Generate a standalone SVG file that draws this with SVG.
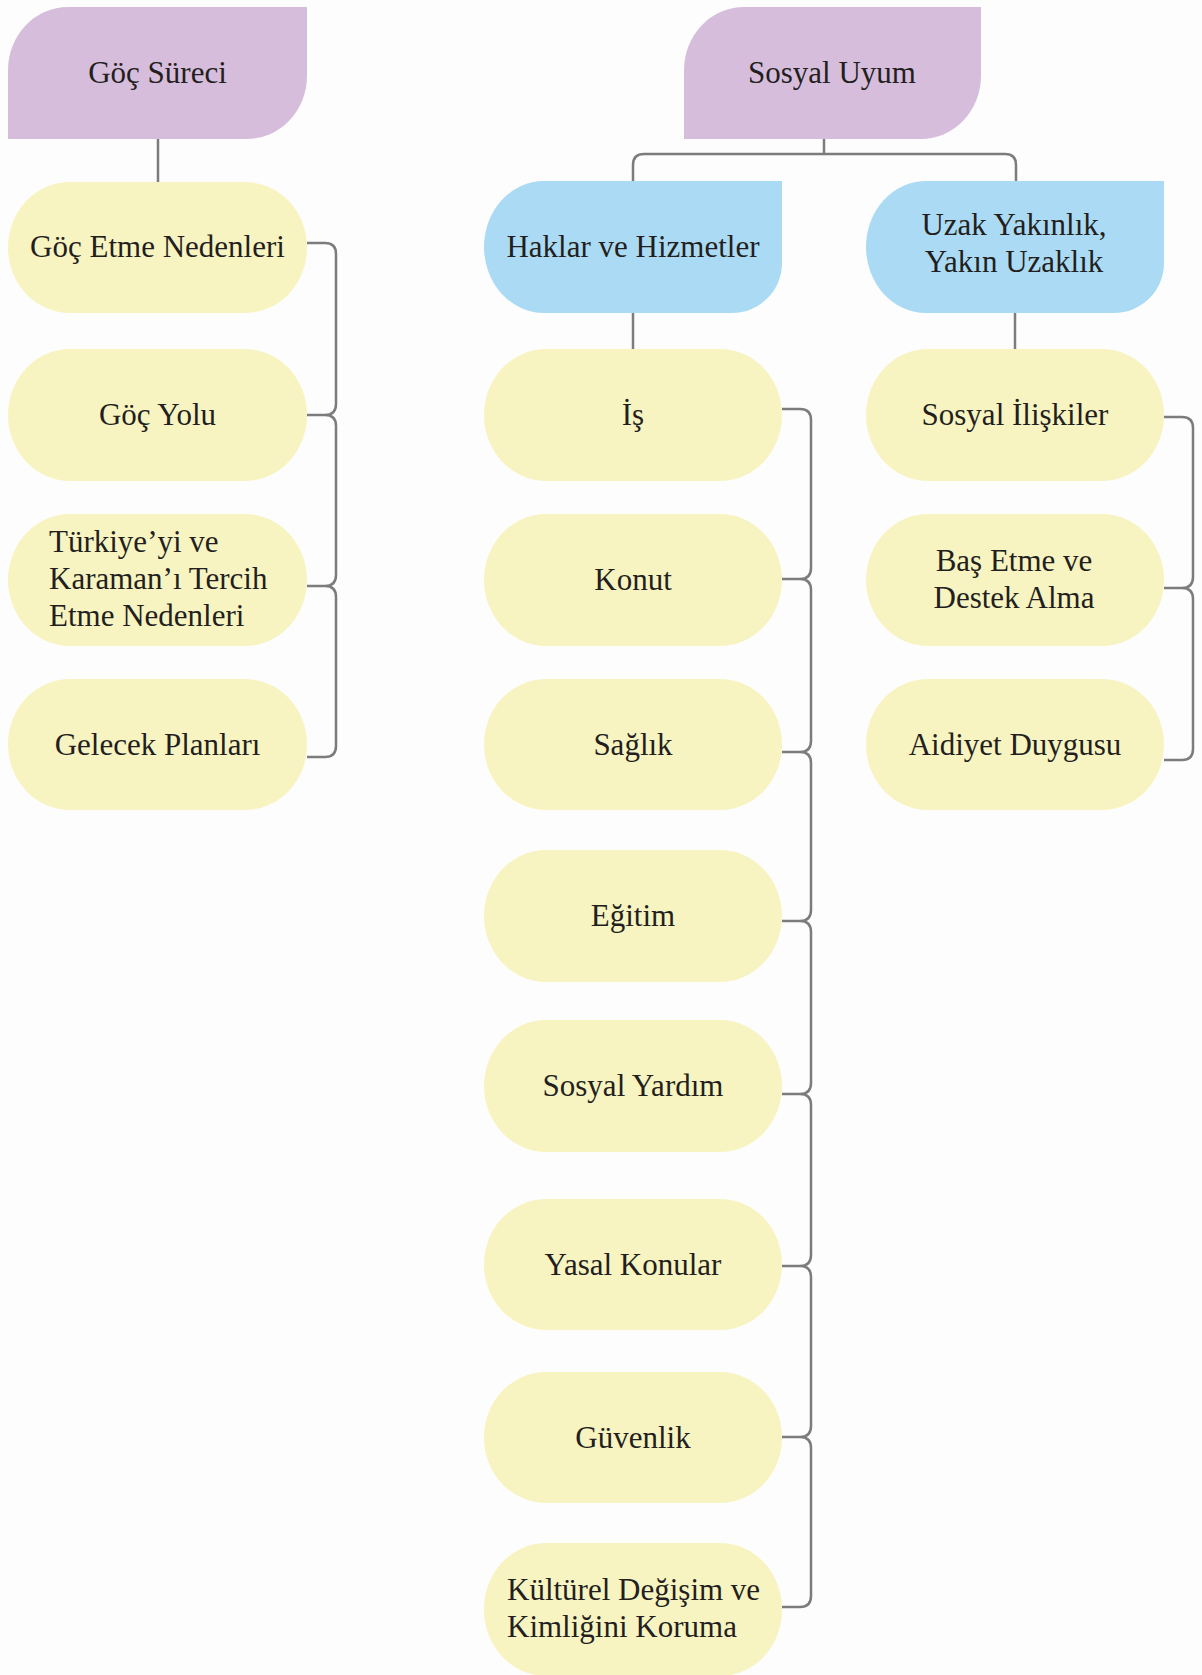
<svg xmlns="http://www.w3.org/2000/svg" width="1202" height="1675" viewBox="0 0 1202 1675">
<style>
.bg{fill:#FDFDFD}
.purple{fill:#D7BDDC}
.blue{fill:#ABDBF4}
.pill{fill:#F8F4C1}
.t{font-family:"Liberation Serif","Times New Roman",serif;font-size:31px;fill:#231F20}
.c{text-anchor:middle}
.ln{fill:none;stroke:#7C7C7C;stroke-width:2.5}
</style>
<rect class="bg" x="0" y="0" width="1202" height="1675"/>
<g id="connectors">
<path class="ln" d="M158,139 V182"/>
<path class="ln" d="M824,139 V154"/>
<path class="ln" d="M633,181 V165 Q633,154 644,154 H1005 Q1016,154 1016,165 V181"/>
<path class="ln" d="M633,313 V349"/>
<path class="ln" d="M1015,313 V349"/>
<path class="ln" d="M307,243 H325 Q336,243 336,254 V404 Q336,415 325,415 H307 M307,415 H325 Q336,415 336,426 V575 Q336,586 325,586 H307 M307,586 H325 Q336,586 336,597 V746 Q336,757 325,757 H307"/>
<path class="ln" d="M782,409 H800 Q811,409 811,420 V568 Q811,579 800,579 H782 M782,579 H800 Q811,579 811,590 V741 Q811,752 800,752 H782 M782,752 H800 Q811,752 811,763 V910 Q811,921 800,921 H782 M782,921 H800 Q811,921 811,932 V1083 Q811,1094 800,1094 H782 M782,1094 H800 Q811,1094 811,1105 V1255 Q811,1266 800,1266 H782 M782,1266 H800 Q811,1266 811,1277 V1426 Q811,1437 800,1437 H782 M782,1437 H800 Q811,1437 811,1448 V1596 Q811,1607 800,1607 H782"/>
<path class="ln" d="M1164,417 H1182 Q1193,417 1193,428 V577 Q1193,588 1182,588 H1164 M1164,588 H1182 Q1193,588 1193,599 V749 Q1193,760 1182,760 H1164"/>
</g>
<g id="goc-sureci">
<path class="purple" d="M8,139 V70 A60 63 0 0 1 68,7 H307 V76 A60 63 0 0 1 247,139 Z"/>
<text class="t c" x="157.5" y="83">Göç Süreci</text>
</g>
<g id="sosyal-uyum">
<path class="purple" d="M684,139 V70 A60 63 0 0 1 744,7 H981 V76 A60 63 0 0 1 921,139 Z"/>
<text class="t c" x="832" y="83">Sosyal Uyum</text>
</g>
<g id="haklar-ve-hizmetler">
<path class="blue" d="M782,181 V263 A50 50 0 0 1 732,313 H544 A60 66 0 0 1 484,247 A60 66 0 0 1 544,181 Z"/>
<text class="t c" x="633" y="257">Haklar ve Hizmetler</text>
</g>
<g id="uzak-yakinlik">
<path class="blue" d="M1164,181 V263 A50 50 0 0 1 1114,313 H926 A60 66 0 0 1 866,247 A60 66 0 0 1 926,181 Z"/>
<text class="t c" x="1014" y="235">Uzak Yakınlık,</text>
<text class="t c" x="1014" y="272">Yakın Uzaklık</text>
</g>
<g id="goc-etme-nedenleri">
<rect class="pill" x="8" y="182" width="299" height="131" rx="62" ry="65"/>
<text class="t c" x="157.5" y="257">Göç Etme Nedenleri</text>
</g>
<g id="goc-yolu">
<rect class="pill" x="8" y="349" width="299" height="132" rx="62" ry="66"/>
<text class="t c" x="157.5" y="425">Göç Yolu</text>
</g>
<g id="turkiye-karaman">
<rect class="pill" x="8" y="514" width="299" height="132" rx="62" ry="66"/>
<text class="t" x="49" y="552">Türkiye’yi ve</text>
<text class="t" x="49" y="589">Karaman’ı Tercih</text>
<text class="t" x="49" y="626">Etme Nedenleri</text>
</g>
<g id="gelecek-planlari">
<rect class="pill" x="8" y="679" width="299" height="131" rx="62" ry="65"/>
<text class="t c" x="157.5" y="755">Gelecek Planları</text>
</g>
<g id="is">
<rect class="pill" x="484" y="349" width="298" height="132" rx="62" ry="66"/>
<text class="t c" x="633" y="425">İş</text>
</g>
<g id="konut">
<rect class="pill" x="484" y="514" width="298" height="132" rx="62" ry="66"/>
<text class="t c" x="633" y="590">Konut</text>
</g>
<g id="saglik">
<rect class="pill" x="484" y="679" width="298" height="131" rx="62" ry="65"/>
<text class="t c" x="633" y="755">Sağlık</text>
</g>
<g id="egitim">
<rect class="pill" x="484" y="850" width="298" height="132" rx="62" ry="66"/>
<text class="t c" x="633" y="926">Eğitim</text>
</g>
<g id="sosyal-yardim">
<rect class="pill" x="484" y="1020" width="298" height="132" rx="62" ry="66"/>
<text class="t c" x="633" y="1096">Sosyal Yardım</text>
</g>
<g id="yasal-konular">
<rect class="pill" x="484" y="1199" width="298" height="131" rx="62" ry="65"/>
<text class="t c" x="633" y="1275">Yasal Konular</text>
</g>
<g id="guvenlik">
<rect class="pill" x="484" y="1372" width="298" height="131" rx="62" ry="65"/>
<text class="t c" x="633" y="1448">Güvenlik</text>
</g>
<g id="kulturel-degisim">
<rect class="pill" x="484" y="1543" width="298" height="133" rx="62" ry="66"/>
<text class="t" x="507" y="1600">Kültürel Değişim ve</text>
<text class="t" x="507" y="1637">Kimliğini Koruma</text>
</g>
<g id="sosyal-iliskiler">
<rect class="pill" x="866" y="349" width="298" height="132" rx="62" ry="66"/>
<text class="t c" x="1015" y="425">Sosyal İlişkiler</text>
</g>
<g id="bas-etme">
<rect class="pill" x="866" y="514" width="298" height="132" rx="62" ry="66"/>
<text class="t c" x="1014" y="571">Baş Etme ve</text>
<text class="t c" x="1014" y="608">Destek Alma</text>
</g>
<g id="aidiyet-duygusu">
<rect class="pill" x="866" y="679" width="298" height="131" rx="62" ry="65"/>
<text class="t c" x="1015" y="755">Aidiyet Duygusu</text>
</g>
</svg>
